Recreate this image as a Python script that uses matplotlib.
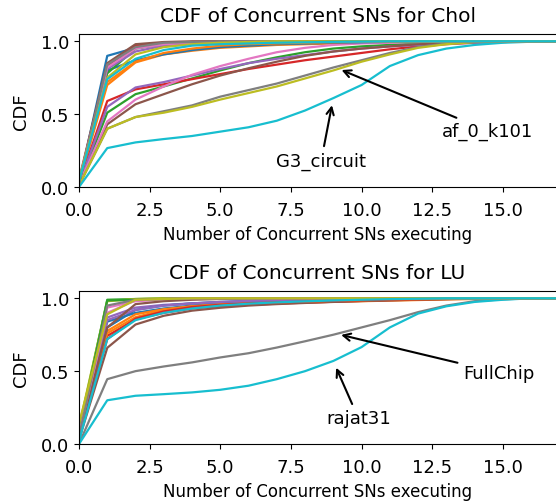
import matplotlib
matplotlib.use("Agg")
import matplotlib.pyplot as plt

x_vals = list(range(18))
x_ticks = [0.0, 2.5, 5.0, 7.5, 10.0, 12.5, 15.0]
y_ticks = [0.0, 0.5, 1.0]

# ---------- Chol ----------
chol_0 = [0.02, 0.90, 0.955, 0.975, 0.985, 0.99, 0.995, 1.0, 1.0, 1.0, 1.0, 1.0, 1.0, 1.0, 1.0, 1.0, 1.0, 1.0]
chol_1 = [0.03, 0.70, 0.855, 0.91, 0.935, 0.955, 0.965, 0.975, 0.98, 0.985, 0.99, 0.993, 0.996, 0.998, 1.0, 1.0, 1.0, 1.0]
chol_2 = [0.01, 0.51, 0.637, 0.69, 0.745, 0.80, 0.85, 0.89, 0.925, 0.95, 0.965, 0.975, 0.985, 0.99, 0.995, 1.0, 1.0, 1.0]
chol_3 = [0.02, 0.59, 0.67, 0.705, 0.74, 0.775, 0.81, 0.84, 0.87, 0.895, 0.92, 0.945, 0.965, 0.98, 0.99, 0.995, 1.0, 1.0]
chol_4 = [0.02, 0.55, 0.683, 0.72, 0.765, 0.81, 0.85, 0.88, 0.905, 0.93, 0.95, 0.965, 0.975, 0.985, 0.99, 0.995, 1.0, 1.0]
chol_5 = [0.01, 0.43, 0.568, 0.637, 0.705, 0.765, 0.815, 0.86, 0.90, 0.93, 0.95, 0.965, 0.98, 0.99, 0.995, 1.0, 1.0, 1.0]
chol_6 = [0.02, 0.45, 0.60, 0.69, 0.77, 0.83, 0.88, 0.925, 0.955, 0.975, 0.985, 0.99, 0.995, 1.0, 1.0, 1.0, 1.0, 1.0]
chol_7 = [0.01, 0.40, 0.48, 0.52, 0.56, 0.62, 0.665, 0.71, 0.765, 0.82, 0.87, 0.92, 0.96, 0.985, 0.995, 1.0, 1.0, 1.0]
chol_8 = [0.01, 0.40, 0.48, 0.51, 0.55, 0.60, 0.645, 0.69, 0.745, 0.80, 0.86, 0.91, 0.955, 0.98, 0.995, 1.0, 1.0, 1.0]
chol_9 = [0.0, 0.267, 0.306, 0.329, 0.35, 0.38, 0.41, 0.455, 0.525, 0.61, 0.70, 0.83, 0.905, 0.95, 0.975, 0.99, 0.997, 1.0]
chol_10 = [0.03, 0.80, 0.87, 0.91, 0.94, 0.96, 0.97, 0.98, 0.985, 0.99, 0.993, 0.996, 0.998, 1.0, 1.0, 1.0, 1.0, 1.0]
chol_11 = [0.04, 0.72, 0.86, 0.92, 0.95, 0.97, 0.98, 0.985, 0.99, 0.993, 0.996, 0.998, 1.0, 1.0, 1.0, 1.0, 1.0, 1.0]
chol_12 = [0.03, 0.78, 0.95, 0.98, 0.99, 0.995, 1.0, 1.0, 1.0, 1.0, 1.0, 1.0, 1.0, 1.0, 1.0, 1.0, 1.0, 1.0]
chol_13 = [0.04, 0.83, 0.97, 0.99, 0.995, 1.0, 1.0, 1.0, 1.0, 1.0, 1.0, 1.0, 1.0, 1.0, 1.0, 1.0, 1.0, 1.0]
chol_14 = [0.03, 0.81, 0.93, 0.97, 0.985, 0.99, 0.995, 1.0, 1.0, 1.0, 1.0, 1.0, 1.0, 1.0, 1.0, 1.0, 1.0, 1.0]
chol_15 = [0.05, 0.85, 0.98, 0.995, 1.0, 1.0, 1.0, 1.0, 1.0, 1.0, 1.0, 1.0, 1.0, 1.0, 1.0, 1.0, 1.0, 1.0]
chol_16 = [0.04, 0.82, 0.95, 0.98, 0.99, 0.995, 0.997, 1.0, 1.0, 1.0, 1.0, 1.0, 1.0, 1.0, 1.0, 1.0, 1.0, 1.0]
chol_17 = [0.03, 0.84, 0.96, 0.99, 0.995, 1.0, 1.0, 1.0, 1.0, 1.0, 1.0, 1.0, 1.0, 1.0, 1.0, 1.0, 1.0, 1.0]
chol_18 = [0.05, 0.75, 0.91, 0.96, 0.98, 0.99, 0.995, 1.0, 1.0, 1.0, 1.0, 1.0, 1.0, 1.0, 1.0, 1.0, 1.0, 1.0]
chol_19 = [0.04, 0.74, 0.88, 0.94, 0.97, 0.98, 0.985, 0.99, 0.993, 0.996, 0.998, 1.0, 1.0, 1.0, 1.0, 1.0, 1.0, 1.0]

# ---------- LU ----------
lu_0 = [0.02, 0.84, 0.90, 0.93, 0.95, 0.965, 0.975, 0.982, 0.988, 0.992, 0.995, 0.997, 0.998, 1.0, 1.0, 1.0, 1.0, 1.0]
lu_1 = [0.03, 0.776, 0.89, 0.925, 0.945, 0.955, 0.962, 0.968, 0.972, 0.976, 0.98, 0.984, 0.988, 0.992, 0.995, 0.998, 1.0, 1.0]
lu_2 = [0.10, 0.99, 0.995, 1.0, 1.0, 1.0, 1.0, 1.0, 1.0, 1.0, 1.0, 1.0, 1.0, 1.0, 1.0, 1.0, 1.0, 1.0]
lu_3 = [0.04, 0.742, 0.856, 0.90, 0.93, 0.945, 0.955, 0.963, 0.97, 0.976, 0.982, 0.987, 0.991, 0.995, 0.998, 1.0, 1.0, 1.0]
lu_4 = [0.05, 0.868, 0.936, 0.955, 0.965, 0.972, 0.978, 0.984, 0.988, 0.992, 0.995, 0.997, 1.0, 1.0, 1.0, 1.0, 1.0, 1.0]
lu_5 = [0.03, 0.66, 0.82, 0.88, 0.915, 0.935, 0.95, 0.96, 0.968, 0.975, 0.981, 0.986, 0.99, 0.994, 0.997, 1.0, 1.0, 1.0]
lu_6 = [0.06, 0.936, 0.98, 0.99, 0.995, 1.0, 1.0, 1.0, 1.0, 1.0, 1.0, 1.0, 1.0, 1.0, 1.0, 1.0, 1.0, 1.0]
lu_7 = [0.0, 0.445, 0.50, 0.532, 0.56, 0.594, 0.623, 0.662, 0.705, 0.75, 0.80, 0.85, 0.905, 0.95, 0.98, 0.993, 1.0, 1.0]
lu_8 = [0.12, 0.98, 0.995, 1.0, 1.0, 1.0, 1.0, 1.0, 1.0, 1.0, 1.0, 1.0, 1.0, 1.0, 1.0, 1.0, 1.0, 1.0]
lu_9 = [0.0, 0.30, 0.331, 0.342, 0.354, 0.372, 0.40, 0.445, 0.50, 0.57, 0.665, 0.80, 0.895, 0.945, 0.975, 0.99, 1.0, 1.0]
lu_10 = [0.05, 0.80, 0.92, 0.95, 0.965, 0.975, 0.982, 0.988, 0.992, 0.995, 0.997, 1.0, 1.0, 1.0, 1.0, 1.0, 1.0, 1.0]
lu_11 = [0.04, 0.76, 0.87, 0.92, 0.945, 0.958, 0.966, 0.972, 0.977, 0.982, 0.986, 0.99, 0.993, 0.996, 0.998, 1.0, 1.0, 1.0]
lu_12 = [0.08, 0.985, 0.99, 0.995, 1.0, 1.0, 1.0, 1.0, 1.0, 1.0, 1.0, 1.0, 1.0, 1.0, 1.0, 1.0, 1.0, 1.0]
lu_13 = [0.05, 0.72, 0.86, 0.91, 0.94, 0.955, 0.965, 0.972, 0.978, 0.983, 0.987, 0.991, 0.994, 0.997, 1.0, 1.0, 1.0, 1.0]
lu_14 = [0.04, 0.85, 0.92, 0.95, 0.965, 0.975, 0.982, 0.988, 0.992, 0.995, 0.997, 1.0, 1.0, 1.0, 1.0, 1.0, 1.0, 1.0]
lu_15 = [0.05, 0.80, 0.96, 0.98, 0.99, 0.995, 1.0, 1.0, 1.0, 1.0, 1.0, 1.0, 1.0, 1.0, 1.0, 1.0, 1.0, 1.0]
lu_16 = [0.07, 0.90, 0.985, 0.995, 1.0, 1.0, 1.0, 1.0, 1.0, 1.0, 1.0, 1.0, 1.0, 1.0, 1.0, 1.0, 1.0, 1.0]
lu_17 = [0.05, 0.95, 0.99, 0.995, 1.0, 1.0, 1.0, 1.0, 1.0, 1.0, 1.0, 1.0, 1.0, 1.0, 1.0, 1.0, 1.0, 1.0]
lu_18 = [0.14, 0.89, 0.99, 0.995, 1.0, 1.0, 1.0, 1.0, 1.0, 1.0, 1.0, 1.0, 1.0, 1.0, 1.0, 1.0, 1.0, 1.0]
lu_19 = [0.02, 0.72, 0.85, 0.90, 0.93, 0.95, 0.963, 0.972, 0.979, 0.985, 0.99, 0.994, 0.997, 1.0, 1.0, 1.0, 1.0, 1.0]

chol_lines = [chol_0, chol_1, chol_2, chol_3, chol_4, chol_5, chol_6, chol_7, chol_8, chol_9,
              chol_10, chol_11, chol_12, chol_13, chol_14, chol_15, chol_16, chol_17, chol_18, chol_19]
lu_lines = [lu_0, lu_1, lu_2, lu_3, lu_4, lu_5, lu_6, lu_7, lu_8, lu_9,
            lu_10, lu_11, lu_12, lu_13, lu_14, lu_15, lu_16, lu_17, lu_18, lu_19]

chol_title = "CDF of Concurrent SNs for Chol"
lu_title = "CDF of Concurrent SNs for LU"
x_label = "Number of Concurrent SNs executing"
y_label = "CDF"

chol_notes = [("af_0_k101", (9.2, 0.81), (14.46, 0.386)),
              ("G3_circuit", (8.97, 0.58), (8.57, 0.18))]
lu_notes = [("FullChip", (9.18, 0.753), (14.85, 0.49)),
            ("rajat31", (9.06, 0.541), (9.89, 0.176))]

fig = plt.figure(figsize=(5.56, 5.02), dpi=100)
ax1 = fig.add_axes([79 / 556, 1 - 188 / 502, 477 / 556, 153 / 502])
ax2 = fig.add_axes([79 / 556, 1 - 445 / 502, 477 / 556, 153 / 502])

for ax, lines, title, notes in [(ax1, chol_lines, chol_title, chol_notes),
                                (ax2, lu_lines, lu_title, lu_notes)]:
    for ys in lines:
        ax.plot(x_vals, ys, lw=1.6)
    ax.set_xlim(0, 16.88)
    ax.set_ylim(0, 1.05)
    ax.set_xticks(x_ticks)
    ax.set_yticks(y_ticks)
    ax.tick_params(labelsize=13)
    ax.tick_params(axis='x', pad=6.3)
    ax.set_title(title, fontsize=14.5, pad=9.5)
    ax.set_xlabel(x_label, fontsize=12, labelpad=4.7)
    ax.set_ylabel(y_label, fontsize=13, labelpad=7.5)
    ax.spines['right'].set_visible(False)
    for txt, xy, xyt in notes:
        ax.annotate(txt, xy=xy, xytext=xyt, ha='center', va='center', fontsize=13,
                    arrowprops=dict(arrowstyle='->', color='black', lw=1.5))

fig.savefig("out.png", dpi=100)
